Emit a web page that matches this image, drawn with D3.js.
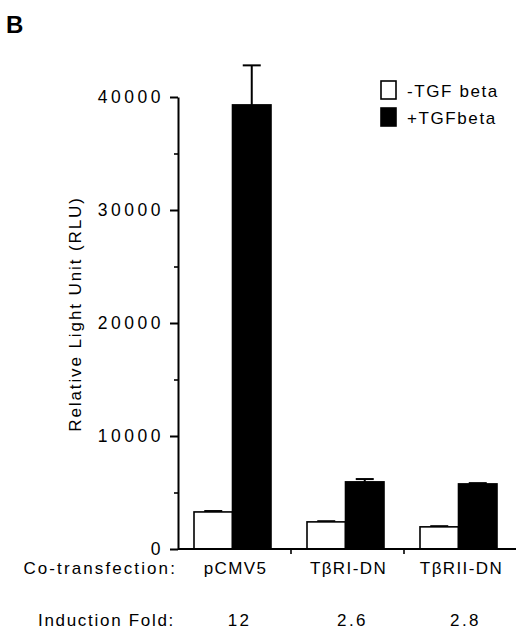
<!DOCTYPE html>
<html>
<head>
<meta charset="utf-8">
<script src="https://cdn.jsdelivr.net/npm/d3@7"></script>
<style>
  body { margin: 0; background: #fff; }
  text { font-family: "Liberation Sans", Arial, sans-serif; fill: #000; }
</style>
</head>
<body>
<div id="vis_container"></div>
<script>
// data
var categories = ["pCMV5", "T\u03b2RI-DN", "T\u03b2RII-DN"];
var series = ["-TGF beta", "+TGFbeta"];
var minusTGF = [3280, 2400, 1960];
var plusTGF = [39300, 5940, 5760];
var minusErr = [80, 60, 60];
var plusErr = [3500, 250, 70];
var foldLabels = ["12", "2.6", "2.8"];
var yMajor = [0, 10000, 20000, 30000, 40000];
var yMinor = [5000, 15000, 25000, 35000];

var chart = {};
chart.width = 516;
chart.height = 631;
chart.margin = {"top": 97, "left": 178, "right": 0, "bottom": 82};

chart.svg = d3.select("#vis_container").append("svg")
	.attr("width", chart.width)
	.attr("height", chart.height);

chart.y = d3.scaleLinear()
	.domain([0, 40000])
	.range([chart.height - chart.margin.bottom, chart.margin.top]);

chart.x = d3.scaleBand()
	.domain(categories)
	.range([chart.margin.left, chart.margin.left + 339]);

chart.inner = d3.scaleBand()
	.domain(series)
	.range([16, 93]);

var fills = ["#fff", "#000"];
var values = [minusTGF, plusTGF];
var errs = [minusErr, plusErr];

// "B" panel label
chart.svg.append("text")
	.attr("x", 6)
	.attr("y", 33)
	.style("font-size", "24px")
	.style("font-weight", "bold")
	.text("B");

// bars
series.forEach(function(s, si) {
	var g = chart.svg.append("g");
	categories.forEach(function(c, ci) {
		var x0 = chart.x(c) + chart.inner(s);
		var v = values[si][ci];
		var e = errs[si][ci];
		var cx = x0 + chart.inner.bandwidth() / 2;
		// error bar (upper only)
		g.append("line")
			.attr("x1", cx).attr("x2", cx)
			.attr("y1", chart.y(v)).attr("y2", chart.y(v + e))
			.attr("stroke", "#000").attr("stroke-width", 2);
		g.append("line")
			.attr("x1", cx - 9).attr("x2", cx + 9)
			.attr("y1", chart.y(v + e)).attr("y2", chart.y(v + e))
			.attr("stroke", "#000").attr("stroke-width", 2);
		g.append("rect")
			.attr("x", x0)
			.attr("y", chart.y(v))
			.attr("width", chart.inner.bandwidth())
			.attr("height", chart.y(0) - chart.y(v))
			.attr("fill", fills[si])
			.attr("stroke", "#000")
			.attr("stroke-width", 1.6);
	});
});

// y axis
var yAxis = chart.svg.append("g")
	.attr("transform", "translate(" + chart.margin.left + ",0)")
	.call(d3.axisLeft(chart.y).tickValues(yMajor).tickFormat(d3.format("d"))
		.tickSize(8).tickSizeOuter(0).tickPadding(6));
yAxis.select(".domain").attr("stroke-width", 2);
yAxis.selectAll(".tick line").attr("stroke-width", 2);
yAxis.selectAll(".tick text")
	.style("font-size", "17.5px")
	.style("letter-spacing", "3.5px")
	.attr("font-family", null);

var yMin = chart.svg.append("g")
	.attr("transform", "translate(" + chart.margin.left + ",0)")
	.call(d3.axisLeft(chart.y).tickValues(yMinor).tickSize(4).tickFormat(""));
yMin.select(".domain").remove();
yMin.selectAll(".tick line").attr("stroke-width", 1.6);

// x axis
chart.svg.append("line")
	.attr("x1", chart.margin.left).attr("x2", chart.width)
	.attr("y1", chart.y(0)).attr("y2", chart.y(0))
	.attr("stroke", "#000").attr("stroke-width", 2);
categories.slice(1).forEach(function(c) {
	chart.svg.append("line")
		.attr("x1", chart.x(c)).attr("x2", chart.x(c))
		.attr("y1", chart.y(0)).attr("y2", chart.y(0) + 5)
		.attr("stroke", "#000").attr("stroke-width", 1.6);
});

// y label
chart.svg.append("text")
	.attr("transform", "translate(81,314) rotate(-90)")
	.attr("text-anchor", "middle")
	.style("font-size", "17px")
	.style("letter-spacing", "1.9px")
	.text("Relative Light Unit (RLU)");

// bottom rows
function groupCenter(c) {
	return chart.x(c) + chart.inner("+TGFbeta");
}
chart.svg.append("text")
	.attr("x", 177).attr("y", 574)
	.attr("text-anchor", "end")
	.style("font-size", "17px")
	.style("letter-spacing", "2.1px")
	.text("Co-transfection:");
chart.svg.selectAll(".cat")
	.data(categories)
	.enter().append("text")
	.attr("class", "cat")
	.attr("x", function(d) { return groupCenter(d) + 3; })
	.attr("y", 574)
	.attr("text-anchor", "middle")
	.style("font-size", "17px")
	.style("letter-spacing", "1.4px")
	.text(function(d) { return d; });

chart.svg.append("text")
	.attr("x", 175).attr("y", 626)
	.attr("text-anchor", "end")
	.style("font-size", "17px")
	.style("letter-spacing", "1.7px")
	.text("Induction Fold:");
chart.svg.selectAll(".fold")
	.data(foldLabels)
	.enter().append("text")
	.attr("class", "fold")
	.attr("x", function(d, i) { return groupCenter(categories[i]) + 7; })
	.attr("y", 626)
	.attr("text-anchor", "middle")
	.style("font-size", "17px")
	.style("letter-spacing", "2.4px")
	.text(function(d) { return d; });

// legend
var legend = chart.svg.append("g").attr("transform", "translate(381,81)");
series.forEach(function(s, i) {
	legend.append("rect")
		.attr("x", 0).attr("y", i * 27)
		.attr("width", 15).attr("height", 18)
		.attr("fill", fills[i])
		.attr("stroke", "#000")
		.attr("stroke-width", 1.6);
	legend.append("text")
		.attr("x", 26).attr("y", i * 27 + 16)
		.style("font-size", "17px")
		.style("letter-spacing", "1.6px")
		.text(s);
});
</script>
</body>
</html>
